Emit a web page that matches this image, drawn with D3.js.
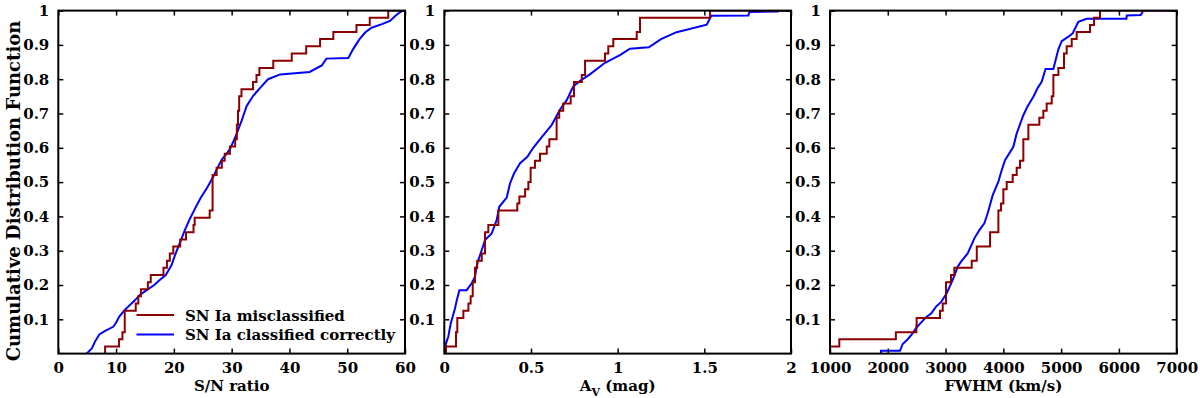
<!DOCTYPE html>
<html>
<head>
<meta charset="utf-8">
<script src="https://cdn.jsdelivr.net/npm/d3@7"></script>
<style>
  html, body { margin: 0; padding: 0; background: #fff; }
  svg { display: block; }
  text { font-family: "DejaVu Serif", serif; font-weight: bold; fill: #000; }
</style>
</head>
<body>
<svg id="chart" width="1200" height="398"></svg>
<script>
// ---------------- DATA ----------------
const seriesNames = ["SN Ia misclassified", "SN Ia classified correctly"];
const yTicks = [0.1, 0.2, 0.3, 0.4, 0.5, 0.6, 0.7, 0.8, 0.9, 1];

// Panel 1: S/N ratio
const snTicks = [0, 10, 20, 30, 40, 50, 60];
const snMisX = [8.1, 8.1, 10.5, 11.1, 11.5, 13.4, 13.85, 14.3, 15.5, 16.0, 18.2, 18.8, 19.3, 19.9, 21.1, 22.1, 23.4, 23.6, 26.2, 26.7, 27.4, 28.3, 28.8, 29.7, 30.6, 30.9, 31.1, 31.3, 31.7, 33.7, 34.3, 34.8, 37.2, 40.4, 42.9, 45.3, 47.6, 51.6, 53.9, 57.1, 60];
const snMisY = [0, 0.021, 0.042, 0.0625, 0.125, 0.146, 0.167, 0.1875, 0.208, 0.229, 0.25, 0.271, 0.292, 0.3125, 0.333, 0.354, 0.375, 0.396, 0.417, 0.521, 0.542, 0.5625, 0.583, 0.604, 0.625, 0.667, 0.708, 0.75, 0.771, 0.792, 0.8125, 0.833, 0.854, 0.875, 0.896, 0.917, 0.9375, 0.958, 0.979, 1.0, 1.0];
const snCorX = [4.9, 5.8, 6.35, 7.1, 8.1, 9.5, 10.0, 10.55, 11.5, 12.4, 13.3, 14.1, 15.3, 16.6, 17.6, 18.6, 19.6, 20.2, 21.1, 21.9, 22.8, 23.7, 24.6, 25.7, 26.8, 27.5, 28.3, 29.0, 29.7, 30.7, 31.7, 32.6, 33.7, 35.2, 36.3, 38.4, 43.5, 45.6, 46.4, 50.2, 51.0, 52.1, 53.1, 54.2, 55.9, 57.4, 58.3, 59.1, 59.7, 60];
const snCorY = [0, 0.015, 0.035, 0.056, 0.066, 0.078, 0.09, 0.108, 0.127, 0.142, 0.156, 0.171, 0.185, 0.2, 0.215, 0.229, 0.258, 0.287, 0.326, 0.36, 0.394, 0.424, 0.453, 0.482, 0.515, 0.54, 0.566, 0.58, 0.596, 0.634, 0.678, 0.722, 0.751, 0.78, 0.8, 0.814, 0.821, 0.84, 0.86, 0.862, 0.887, 0.916, 0.936, 0.95, 0.96, 0.97, 0.984, 0.995, 1.0, 1.0];

// Panel 2: A_V (mag)
const avTicks = [0, 0.5, 1, 1.5, 2];
const avMisX = [0.01, 0.01, 0.0675, 0.075, 0.11, 0.139, 0.152, 0.164, 0.177, 0.19, 0.216, 0.235, 0.254, 0.312, 0.421, 0.433, 0.466, 0.485, 0.498, 0.523, 0.552, 0.591, 0.606, 0.648, 0.663, 0.686, 0.729, 0.748, 0.793, 0.812, 0.927, 0.946, 0.975, 1.11, 1.129, 1.533, 2.0];
const avMisY = [0, 0.021, 0.0625, 0.104, 0.125, 0.146, 0.167, 0.208, 0.25, 0.271, 0.292, 0.354, 0.375, 0.417, 0.4375, 0.458, 0.479, 0.5, 0.542, 0.5625, 0.583, 0.604, 0.625, 0.6875, 0.708, 0.729, 0.75, 0.792, 0.8125, 0.854, 0.875, 0.896, 0.917, 0.9375, 0.979, 1.0, 1.0];
const avCorX = [0, 0.01, 0.023, 0.037, 0.062, 0.07, 0.087, 0.129, 0.158, 0.177, 0.19, 0.216, 0.235, 0.273, 0.302, 0.317, 0.36, 0.379, 0.402, 0.437, 0.479, 0.513, 0.56, 0.62, 0.667, 0.706, 0.744, 0.783, 0.84, 0.927, 1.013, 1.071, 1.18, 1.25, 1.34, 1.514, 1.54, 1.754, 1.76, 1.925, 1.93, 2.0];
const avCorY = [0, 0.03, 0.049, 0.088, 0.132, 0.151, 0.185, 0.185, 0.205, 0.224, 0.263, 0.302, 0.331, 0.35, 0.389, 0.428, 0.455, 0.496, 0.525, 0.555, 0.574, 0.6, 0.63, 0.667, 0.711, 0.739, 0.779, 0.795, 0.814, 0.848, 0.87, 0.889, 0.893, 0.917, 0.937, 0.959, 0.985, 0.986, 0.996, 0.997, 1.0, 1.0];

// Panel 3: FWHM (km/s)
const fwTicks = [1000, 2000, 3000, 4000, 5000, 6000, 7000];
const fwMisX = [1000, 1161, 2140, 2495, 2500, 2904, 2951, 3008, 3094, 3152, 3453, 3540, 3770, 3914, 3960, 4000, 4058, 4162, 4231, 4289, 4346, 4433, 4623, 4692, 4750, 4837, 4866, 4952, 5050, 5096, 5183, 5269, 5500, 5569, 5673, 7000];
const fwMisY = [0.021, 0.042, 0.0625, 0.083, 0.104, 0.125, 0.146, 0.208, 0.229, 0.25, 0.271, 0.3125, 0.354, 0.417, 0.4375, 0.479, 0.5, 0.521, 0.542, 0.5625, 0.625, 0.667, 0.6875, 0.708, 0.729, 0.75, 0.8125, 0.833, 0.875, 0.896, 0.917, 0.9375, 0.958, 0.979, 1.0, 1.0];
const fwCorX = [1883, 1883, 2212, 2258, 2345, 2419, 2489, 2563, 2662, 2750, 2835, 2921, 3020, 3124, 3210, 3268, 3383, 3498, 3585, 3671, 3729, 3816, 3914, 3972, 4029, 4173, 4231, 4346, 4416, 4519, 4589, 4665, 4730, 4866, 4952, 5010, 5125, 5200, 5298, 5442, 6130, 6136, 6378, 6424, 7000];
const fwCorY = [0, 0.008, 0.008, 0.028, 0.042, 0.057, 0.074, 0.088, 0.106, 0.117, 0.137, 0.15, 0.176, 0.215, 0.253, 0.268, 0.292, 0.336, 0.36, 0.38, 0.409, 0.462, 0.501, 0.535, 0.564, 0.603, 0.642, 0.695, 0.72, 0.749, 0.773, 0.793, 0.83, 0.83, 0.887, 0.911, 0.924, 0.934, 0.967, 0.976, 0.976, 0.986, 0.987, 1.0, 1.0];

// ---------------- DRAW ----------------
const svg = d3.select("#chart");
const colMis = "#8b0000";
const colCor = "#0000ff";
const plotTop = 10.6, plotBottom = 353.6;

const panels = [
  { x0: 58.3, x1: 405, domain: [0, 60], ticks: snTicks, mis: [snMisX, snMisY], cor: [snCorX, snCorY], label: "sn", legend: true },
  { x0: 444.3, x1: 791, domain: [0, 2], ticks: avTicks, mis: [avMisX, avMisY], cor: [avCorX, avCorY], label: "av" },
  { x0: 830, x1: 1176.7, domain: [1000, 7000], ticks: fwTicks, mis: [fwMisX, fwMisY], cor: [fwCorX, fwCorY], label: "fw" }
];

const y = d3.scaleLinear().domain([0, 1]).range([plotBottom, plotTop]);

panels.forEach((p, i) => {
  const x = d3.scaleLinear().domain(p.domain).range([p.x0, p.x1]);
  const g = svg.append("g");
  const clipId = "clip" + i;
  svg.append("clipPath").attr("id", clipId).append("rect")
    .attr("x", p.x0).attr("y", plotTop).attr("width", p.x1 - p.x0).attr("height", plotBottom - plotTop);

  const pts = arr => arr[0].map((v, k) => [v, arr[1][k]]);
  const stepLine = d3.line().x(d => x(d[0])).y(d => y(d[1])).curve(d3.curveStepAfter);
  const linLine = d3.line().x(d => x(d[0])).y(d => y(d[1]));

  const lines = g.append("g").attr("clip-path", `url(#${clipId})`);
  lines.append("path").attr("d", linLine(pts(p.cor)))
    .attr("fill", "none").attr("stroke", colCor).attr("stroke-width", 2);
  lines.append("path").attr("d", stepLine(pts(p.mis)))
    .attr("fill", "none").attr("stroke", colMis).attr("stroke-width", 2);

  const tickLen = 5;
  const axB = d3.axisBottom(x).tickValues(p.ticks).tickSize(-tickLen).tickPadding(8.5).tickFormat(d => String(d));
  const axT = d3.axisTop(x).tickValues(p.ticks).tickSize(-tickLen).tickFormat("");
  const axL = d3.axisLeft(y).tickValues(yTicks).tickSize(-tickLen).tickPadding(9).tickFormat(d => String(d));
  const axR = d3.axisRight(y).tickValues(yTicks).tickSize(-tickLen).tickFormat("");

  const gB = g.append("g").attr("transform", `translate(0,${plotBottom})`).call(axB);
  const gT = g.append("g").attr("transform", `translate(0,${plotTop})`).call(axT);
  const gL = g.append("g").attr("transform", `translate(${p.x0},0)`).call(axL);
  const gR = g.append("g").attr("transform", `translate(${p.x1},0)`).call(axR);
  [gB, gT, gL, gR].forEach(a => {
    a.select(".domain").remove();
    a.selectAll(".tick line").attr("stroke", "#000").attr("stroke-width", 1.5);
    a.selectAll("text").attr("font-size", 15).attr("font-family", "DejaVu Serif").attr("font-weight", "bold").attr("fill", "#000");
  });

  g.append("rect").attr("x", p.x0).attr("y", plotTop).attr("width", p.x1 - p.x0).attr("height", plotBottom - plotTop)
    .attr("fill", "none").attr("stroke", "#000").attr("stroke-width", 2);

  const cx = (p.x0 + p.x1) / 2;
  const xl = svg.append("text").attr("x", cx).attr("y", 391).attr("text-anchor", "middle").attr("font-size", 15);
  if (p.label === "sn") xl.text("S/N ratio");
  else if (p.label === "fw") xl.text("FWHM (km/s)");
  else {
    xl.append("tspan").text("A");
    xl.append("tspan").attr("dy", 5).attr("font-size", 11).text("V");
    xl.append("tspan").attr("dy", -5).text(" (mag)");
  }

  if (p.legend) {
    const lg = svg.append("g");
    const entries = [[seriesNames[0], colMis, 315], [seriesNames[1], colCor, 334.5]];
    entries.forEach(e => {
      lg.append("line").attr("x1", 136.5).attr("x2", 174).attr("y1", e[2]).attr("y2", e[2])
        .attr("stroke", e[1]).attr("stroke-width", 2);
      lg.append("text").attr("x", 185).attr("y", e[2] + 5.5).attr("font-size", 15).text(e[0]);
    });
  }
});

svg.append("text")
  .attr("transform", "translate(19.5,191) rotate(-90)")
  .attr("text-anchor", "middle")
  .attr("font-size", 18)
  .text("Cumulative Distribution Function");
</script>
</body>
</html>
